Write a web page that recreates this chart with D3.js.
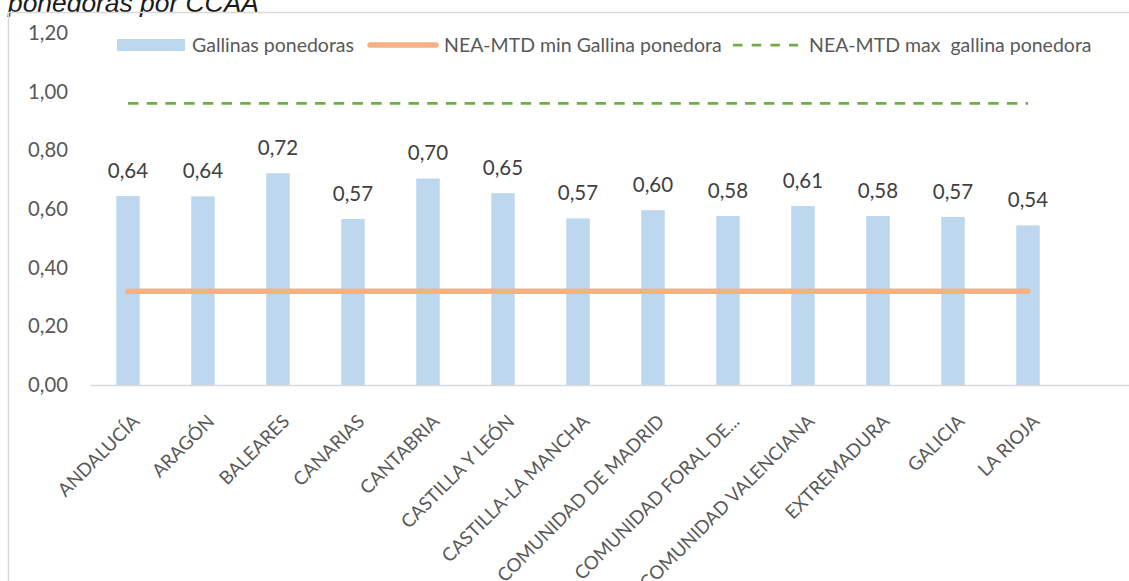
<!DOCTYPE html>
<html>
<head>
<meta charset="utf-8">
<script src="https://cdn.jsdelivr.net/npm/d3@7"></script>
<style>
  html, body { margin: 0; padding: 0; background: #fff; }
  svg { display: block; }
</style>
</head>
<body>
<svg id="chart" width="1129" height="581"></svg>
<script>
// ---- data ----
const categories = ["ANDALUCÍA","ARAGÓN","BALEARES","CANARIAS","CANTABRIA","CASTILLA Y LEÓN","CASTILLA-LA MANCHA","COMUNIDAD DE MADRID","COMUNIDAD FORAL DE...","COMUNIDAD VALENCIANA","EXTREMADURA","GALICIA","LA RIOJA"];
const gallinas = [0.644,0.643,0.722,0.566,0.704,0.654,0.568,0.596,0.576,0.610,0.576,0.573,0.544];
const neaMin = [0.32,0.32,0.32,0.32,0.32,0.32,0.32,0.32,0.32,0.32,0.32,0.32,0.32];
const neaMax = [0.96,0.96,0.96,0.96,0.96,0.96,0.96,0.96,0.96,0.96,0.96,0.96,0.96];
const yTicks = [0,0.2,0.4,0.6,0.8,1.0,1.2];
const seriesNames = ["Gallinas ponedoras","NEA-MTD min Gallina ponedora","NEA-MTD max  gallina ponedora"];
const titleText = "ponedoras por CCAA";

// ---- layout ----
const W = 1129, H = 581;
const FONT = "Lato, 'Open Sans', sans-serif";
const svg = d3.select("#chart");

const x = d3.scaleBand().domain(categories).range([90.5, 1065.5])
  .paddingInner(0.6867).paddingOuter(0.6867/2);
const y = d3.scaleLinear().domain([0, 1.2]).range([385, 33]);
const fmt = v => d3.format(".2f")(v).replace(".", ",");
const cx = c => x(c) + x.bandwidth()/2;

// title (partially cut)
svg.append("text").attr("x", 8).attr("y", 11.5)
  .attr("font-family", "'Liberation Sans', Arial, sans-serif")
  .attr("font-style", "italic").attr("font-size", 26.4).attr("fill", "#1a1a1a")
  .text(titleText);

// chart border
svg.append("rect").attr("x", 8.5).attr("y", 12.5).attr("width", W + 20).attr("height", H + 20)
  .attr("fill", "none").attr("stroke", "#d9d9d9").attr("stroke-width", 1.5);

// y axis labels
const yAxis = d3.axisLeft(y).tickValues(yTicks).tickFormat(fmt).tickSize(0).tickPadding(0);
const gy = svg.append("g").attr("transform", "translate(68,0)").call(yAxis);
gy.select(".domain").remove();
gy.selectAll("text").attr("font-family", FONT).attr("font-size", 20.3).attr("fill", "#595959");

// bars
svg.append("g").selectAll("rect").data(categories).join("rect")
  .attr("x", c => x(c)).attr("width", x.bandwidth())
  .attr("y", (c, i) => y(gallinas[i])).attr("height", (c, i) => y(0) - y(gallinas[i]))
  .attr("fill", "#BDD7EE");

// x axis line
svg.append("line").attr("x1", x.range()[0]).attr("x2", x.range()[1] + x.step())
  .attr("y1", y(0) + 0.5).attr("y2", y(0) + 0.5)
  .attr("stroke", "#d9d9d9").attr("stroke-width", 1.5);

// min line
const line = d3.line().x(d => cx(d.c)).y(d => y(d.v));
svg.append("path").datum(categories.map((c, i) => ({c, v: neaMin[i]})))
  .attr("d", line).attr("fill", "none").attr("stroke", "#F4B183")
  .attr("stroke-width", 5.5).attr("stroke-linecap", "round");

// max line
svg.append("path").datum(categories.map((c, i) => ({c, v: neaMax[i]})))
  .attr("d", line).attr("fill", "none").attr("stroke", "#70AD47")
  .attr("stroke-width", 2.75).attr("stroke-dasharray", "10.5,8.2");

// data labels
svg.append("g").selectAll("text").data(categories).join("text")
  .attr("x", c => cx(c)).attr("y", (c, i) => y(gallinas[i]) - 18)
  .attr("text-anchor", "middle")
  .attr("font-family", FONT).attr("font-size", 20.5).attr("fill", "#404040")
  .text((c, i) => fmt(gallinas[i]));

// x labels
svg.append("g").selectAll("text").data(categories).join("text")
  .attr("transform", c => `translate(${cx(c) + 8},${418}) rotate(-45)`)
  .attr("text-anchor", "end").attr("dy", "0.35em")
  .attr("font-family", FONT).attr("font-size", 18.6).attr("fill", "#595959")
  .text(c => c);

// legend
const lg = svg.append("g").attr("font-family", FONT).attr("font-size", 19.5).attr("fill", "#595959");
const ly = 45;
lg.append("rect").attr("x", 117).attr("y", ly - 6).attr("width", 68).attr("height", 12).attr("fill", "#BDD7EE");
lg.append("text").attr("x", 192).attr("y", ly).attr("dy", "0.35em").text(seriesNames[0]);
lg.append("line").attr("x1", 370).attr("x2", 436).attr("y1", ly).attr("y2", ly)
  .attr("stroke", "#F4B183").attr("stroke-width", 5.5).attr("stroke-linecap", "round");
lg.append("text").attr("x", 444).attr("y", ly).attr("dy", "0.35em").text(seriesNames[1]);
lg.append("line").attr("x1", 733).attr("x2", 798).attr("y1", ly).attr("y2", ly)
  .attr("stroke", "#70AD47").attr("stroke-width", 2.75).attr("stroke-dasharray", "9.5,9.2");
lg.append("text").attr("x", 809).attr("y", ly).attr("dy", "0.35em")
  .attr("xml:space", "preserve").style("white-space", "pre").text(seriesNames[2]);
</script>
</body>
</html>
